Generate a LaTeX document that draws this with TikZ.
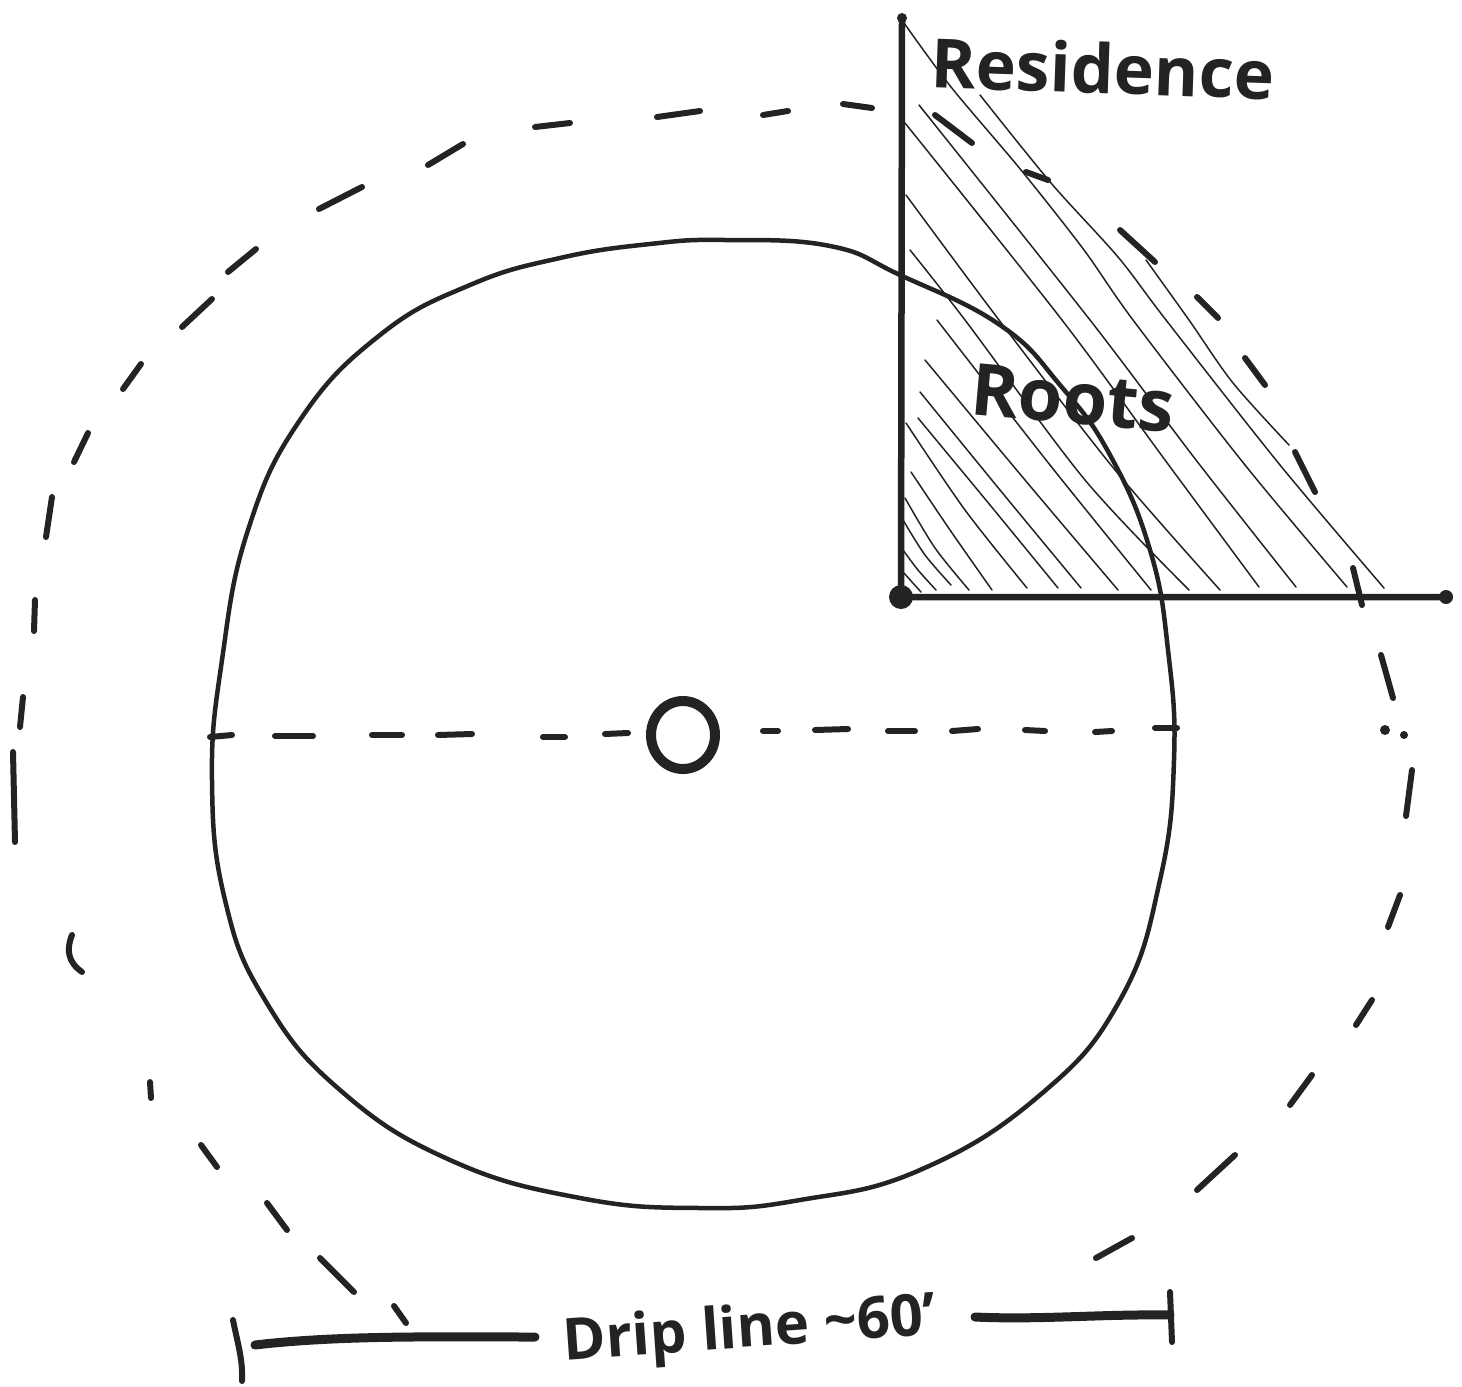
\documentclass[tikz,border=0pt]{standalone}
\usepackage{xcolor}
\usepackage{fontspec}
\setmainfont{Open Sans}
\usepackage{tikz}
\usetikzlibrary{positioning, calc}
\definecolor{penink}{HTML}{232323}

\tikzset{
  wall/.style={draw=penink, line width=6.5pt, line cap=round},
  rootline/.style={draw=penink, line width=4.5pt, line cap=round},
  hatchline/.style={draw=penink, line width=1.5pt, line cap=round},
  dripdash/.style={draw=penink, line width=6pt, line cap=round},
  centerdash/.style={draw=penink, line width=6pt, line cap=round},
  spanbar/.style={draw=penink, line width=9pt, line cap=round},
  spantick/.style={draw=penink, line width=6pt, line cap=round},
  hand/.style={text=penink, font=\bfseries\fontsize{#1}{#1}\selectfont, inner sep=0pt},
}
\newcommand{\hatchstroke}[1]{\draw[hatchline] plot[smooth] coordinates {#1};}

\begin{document}
\begin{tikzpicture}[x=1pt, y=-1pt]
  \useasboundingbox (0,0) rectangle (1462,1387);

  \coordinate (walltop) at (902,18);
  \coordinate (corner) at (901,597);
  \coordinate (wallend) at (1446,597);

  \hatchstroke{(1146,260) (1189,320) (1233,383) (1289,445)}
  \hatchstroke{(980,95) (1051,183) (1118,257) (1166,320) (1280,465) (1384,588)}
  \hatchstroke{(904,23) (951,87) (1021,170) (1084,250) (1133,320) (1245,465) (1347,587)}
  \hatchstroke{(919,105) (1090,320) (1196,460) (1296,587)}
  \hatchstroke{(905,123) (1062,320) (1165,460) (1259,587)}
  \hatchstroke{(906,195) (999,320) (1115,470) (1220,590)}
  \hatchstroke{(910,250) (965,320) (1085,480) (1189,590)}
  \hatchstroke{(937,320) (1050,465) (1151,590)}
  \hatchstroke{(925,360) (1025,480) (1118,590)}
  \hatchstroke{(920,392) (1000,490) (1081,588)}
  \hatchstroke{(918,418) (990,505) (1058,588)}
  \hatchstroke{(906,423) (965,510) (1027,588)}
  \hatchstroke{(911,472) (950,530) (992,590)}
  \hatchstroke{(905,498) (935,548) (969,590)}
  \hatchstroke{(903,520) (925,555) (951,585)}
  \hatchstroke{(903,550) (918,570) (936,590)}
  \hatchstroke{(903,572) (912,582) (921,592)}

  \draw[wall] (walltop) -- (corner) -- (wallend);
  \fill[penink] (corner) circle (12pt);
  \fill[penink] (wallend) circle (7pt);
  \fill[penink] (walltop) circle (5pt);

  \draw[rootline] plot[smooth cycle, tension=0.75] coordinates {
    (725,240) (830,246) (900,275) (1000,325) (1060,385) (1110,455) (1150,550)
    (1168,650) (1174,760) (1160,880) (1120,1000) (1040,1095) (920,1170) (800,1200)
    (700,1208) (580,1198) (450,1160) (340,1090) (265,1000) (225,900) (212,780)
    (222,660) (248,530) (300,420) (380,335) (470,285) (560,258) (650,244)};

  \foreach \xa/\ya/\xb/\yb in {
    843/104/872/108, 763/115/788/111, 657/117/700/111, 535/127/570/123,
    428/165/463/144, 319/209/362/187, 228/272/256/249, 182/327/212/299,
    123/389/141/364, 74/462/88/433, 46/537/52/497, 34/631/35/600,
    20/727/23/697, 13/752/15/842, 150/1082/151/1098, 201/1145/217/1167,
    267/1203/287/1230, 320/1258/354/1292, 394/1306/406/1323,
    1096/1258/1132/1238, 1197/1190/1235/1155, 1290/1105/1312/1075,
    1356/1025/1372/1000, 1388/927/1400/895, 1406/816/1412/770,
    1381/655/1393/698, 935/115/972/143, 1026/172/1048/180,
    1120/230/1155/262, 1197/297/1218/318, 1245/358/1265/385,
    1295/452/1315/492, 1353/568/1362/605
  }{
    \draw[dripdash] (\xa,\ya) -- (\xb,\yb);
  }
  \draw[dripdash] (72,935) .. controls (66,950) and (68,962) .. (82,972);
  \fill[penink] (1385,730) circle (5pt);
  \fill[penink] (1404,735) circle (4pt);

  \foreach \xa/\ya/\xb/\yb in {
    210/737/232/735, 275/736/313/736, 372/735/402/735, 438/735/472/734,
    543/737/565/737, 605/734/628/733, 763/731/778/731, 815/730/848/729,
    888/731/915/731, 952/731/978/729, 1025/730/1045/731, 1095/732/1112/731,
    1155/728/1177/728
  }{
    \draw[centerdash] (\xa,\ya) -- (\xb,\yb);
  }

  \draw[penink, line width=10pt] (683,735) ellipse (32pt and 34pt);

  \node[hand=68, rotate=-2] (residence) at (1103,68) {Residence};
  \node[hand=72, rotate=-5] (roots) at (1073,398) {Roots};
  \node[hand=58, rotate=4] (driplabel) at (750,1332) {Drip line \textasciitilde60'};

  \coordinate (spanleft) at (255,1345);
  \coordinate (spanright) at (1170,1315);
  \draw[spanbar] (spanleft) .. controls (340,1335) and (440,1337) .. (535,1337);
  \draw[spanbar] (975,1317) .. controls (1040,1320) and (1100,1314) .. (spanright);
  \draw[spantick] (233,1320) .. controls (238,1345) and (243,1360) .. (242,1381);
  \draw[spantick] (1170,1292) -- (1172,1342);
\end{tikzpicture}
\end{document}
